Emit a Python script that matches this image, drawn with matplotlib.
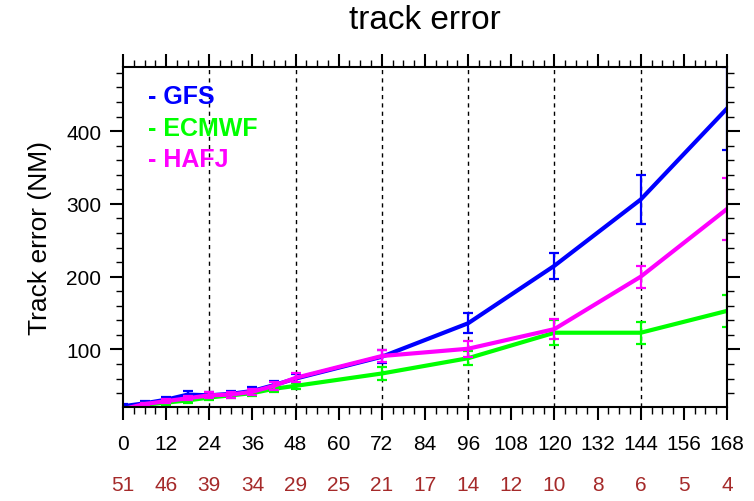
import matplotlib
matplotlib.use("Agg")
import matplotlib.pyplot as plt
from matplotlib.ticker import MultipleLocator
from matplotlib.transforms import blended_transform_factory

# forecast lead times (h)
hours = [0, 6, 12, 18, 24, 30, 36, 42, 48, 72, 96, 120, 144, 168]

# mean track error (NM) per model
gfs = [22, 26, 31, 38, 37, 39, 43, 51, 60, 90, 136, 215, 306, 431]
ecmwf = [17, 24, 27, 30, 34, 37, 40, 46, 50, 67, 88, 123, 123, 153]
hafj = [18, 25, 29, 33, 37, 38, 42, 50, 61, 91, 101, 128, 200, 293]

# error bar half-widths (NM)
gfs_err = [3, 3, 4, 5, 4, 4, 5, 6, 6, 9, 14, 18, 34, 57]
ecmwf_err = [2, 2, 3, 3, 3, 3, 4, 4, 4, 9, 10, 17, 15, 22]
hafj_err = [2, 2, 3, 3, 4, 4, 4, 5, 6, 8, 11, 14, 15, 43]

# x tick labels and sample counts underneath
xticks = [0, 12, 24, 36, 48, 60, 72, 84, 96, 108, 120, 132, 144, 156, 168]
counts = [51, 46, 39, 34, 29, 25, 21, 17, 14, 12, 10, 8, 6, 5, 4]

dashed_hours = [24, 48, 72, 96, 120, 144]

models = [
    ("GFS", gfs, gfs_err, "#0000ff"),
    ("ECMWF", ecmwf, ecmwf_err, "#00ff00"),
    ("HAFJ", hafj, hafj_err, "#ff00ff"),
]

plt.rcParams["font.family"] = ["Liberation Sans", "DejaVu Sans"]

fig = plt.figure(figsize=(7.54, 5.02), dpi=100)
ax = fig.add_axes([0.1631, 0.1873, 0.8011, 0.6772])

for h in dashed_hours:
    ax.axvline(h, color="black", linestyle=(0, (3, 3)), linewidth=1.0, zorder=1)

for name, vals, errs, color in models:
    ax.plot(hours, vals, color=color, linewidth=3, zorder=3)
    ax.errorbar(hours, vals, yerr=errs, fmt="none", ecolor=color,
                elinewidth=1.6, capsize=3.3, capthick=1.6, zorder=3)

ax.set_xlim(0, 168)
ax.set_ylim(21, 488)

ax.xaxis.set_minor_locator(MultipleLocator(3))
ax.yaxis.set_minor_locator(MultipleLocator(20))
ax.set_xticks(xticks)
ax.set_yticks([100, 200, 300, 400])

ax.tick_params(which="major", direction="out", length=9.5, width=1.5,
               labelsize=15, top=True, right=True, pad=6)
ax.tick_params(which="minor", direction="out", length=5, width=1.0,
               top=True, right=True)
ax.tick_params(axis="x", which="major", pad=10)
# spines above the error bars, so the bars at 168 h hide under the frame
for s in ax.spines.values():
    s.set_linewidth(1.5)
    s.set_zorder(5)

ax.set_ylabel("Track error (NM)", fontsize=19, labelpad=10)
ax.set_title("track error", fontsize=24, pad=28)

trans = blended_transform_factory(ax.transData, ax.transAxes)
for h, c in zip(xticks, counts):
    ax.text(h, -0.2295, str(c), transform=trans, ha="center", va="center",
            fontsize=15, color="#a52a2a", clip_on=False)

for i, (name, vals, errs, color) in enumerate(models):
    ax.text(0.041, 0.915 - i * 0.093, "- " + name, transform=ax.transAxes,
            color=color, fontsize=18, fontweight="bold", va="center", ha="left")

fig.savefig("out.png", dpi=100)
